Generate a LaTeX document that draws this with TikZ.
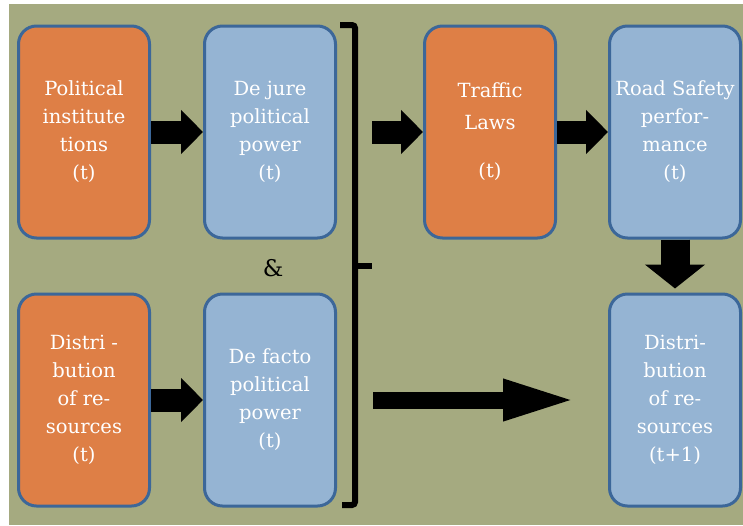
\documentclass[tikz,border=0pt]{standalone}
\usepackage{fontspec}
\newfontfamily\boxfont{DejaVu Serif}
\usepackage{xcolor}
\usepackage{tikz}
\usetikzlibrary{arrows.meta}

\definecolor{bggreen}{RGB}{165,170,128}
\definecolor{boxorange}{RGB}{222,127,70}
\definecolor{boxblue}{RGB}{149,180,211}
\definecolor{boxedge}{RGB}{60,103,153}

\tikzset{
  block/.style={draw=boxedge, line width=3pt, fill=#1, rounded corners=18pt,
    minimum width=131pt, minimum height=212pt, align=center, text=white,
    inner sep=0pt, font=\boxfont\fontsize{19.5}{28}\selectfont},
  fatarrow/.style={line width=23pt, -{Triangle[length=22pt,width=43pt]}},
  brace/.style={line width=6pt, rounded corners=3pt},
}

\begin{document}
\begin{tikzpicture}[x=1pt,y=-1pt]
    \useasboundingbox (0,0) rectangle (743,525);
    \fill[white] (0,0) rectangle (743,525);
    \fill[bggreen] (9,4) rectangle (743,525);

    % top row
    \node[block=boxorange] (polinst) at (84,132) {Political\\institute\\tions\\(t)};
    \node[block=boxblue] (dejure) at (270,132) {De jure\\political\\power\\(t)};
    \node[block=boxorange] (traffic) at (490,132) {Traffic\\[4pt]Laws\\[20pt](t)};
    \node[block=boxblue] (road) at (675,132) {Road Safety\\perfor-\\mance\\(t)};

    % bottom row
    \node[block=boxorange] (distnow) at (84,400) {Distri -\\bution\\of re-\\sources\\(t)};
    \node[block=boxblue] (defacto) at (270,400) {De facto\\political\\power\\(t)};
    \node[block=boxblue] (distnext) at (675,400) {Distri-\\bution\\of re-\\sources\\(t+1)};

    \node[font=\boxfont\fontsize{23}{28}\selectfont] (amp) at (273,268) {\&};

    % bracket joining both powers
    \draw[brace] (340,25) -- (355,25) -- (355,505) -- (342,505);
    \draw[brace] (355,266) -- (372,266);

    \coordinate (lawsin) at (372,132);
    \coordinate (bigstart) at (373,400);

    \draw[fatarrow] (polinst.east) -- (dejure.west);
    \draw[fatarrow] (distnow.east) -- (defacto.west);
    \draw[fatarrow] (lawsin) -- (traffic.west);
    \draw[fatarrow] (traffic.east) -- (road.west);
    \draw[line width=29pt, -{Triangle[length=24pt,width=59pt]}, shorten >=4pt]
      (road.south) -- (distnext.north);
    \draw[line width=17pt, -{Triangle[length=75pt,width=37pt]}, shorten >=30pt]
      (bigstart) -- (distnext.west);
  \end{tikzpicture}
\end{document}
